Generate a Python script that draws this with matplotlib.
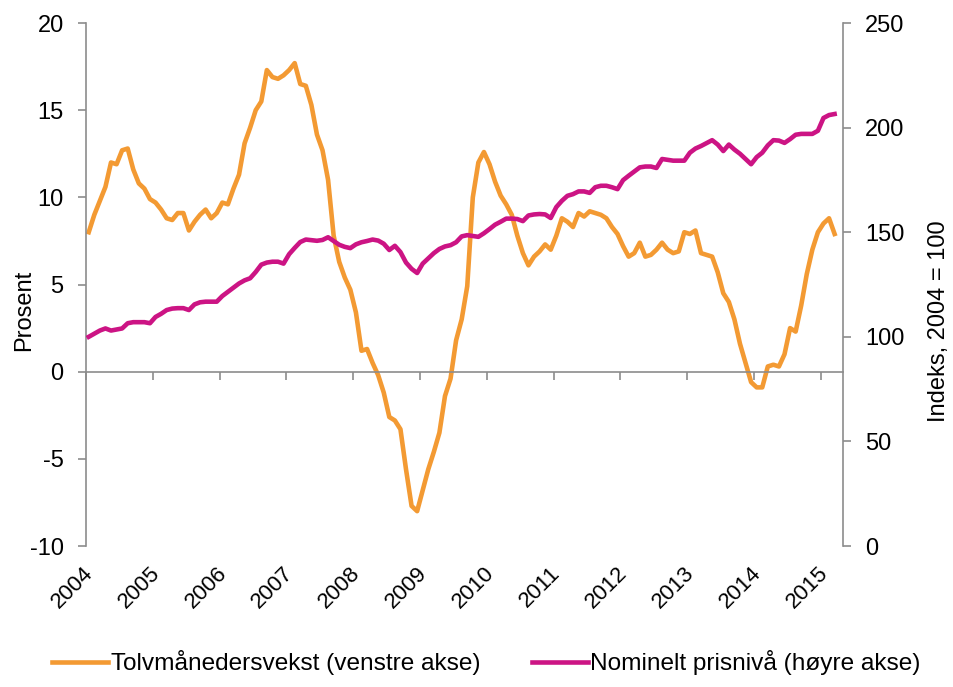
import matplotlib
matplotlib.use('Agg')
import matplotlib.pyplot as plt
import matplotlib.transforms as mtransforms
import numpy as np

plt.rcParams['font.family'] = ['Liberation Sans', 'DejaVu Sans']
plt.rcParams['axes.unicode_minus'] = False

# Monthly data, Jan 2004 - Mar 2015
growth = [8.0, 9.0, 9.8, 10.6, 12.0, 11.9, 12.7, 12.8, 11.6, 10.8, 10.5, 9.9,
          9.7, 9.3, 8.8, 8.7, 9.1, 9.1, 8.1, 8.6, 9.0, 9.3, 8.8, 9.1,
          9.7, 9.6, 10.5, 11.3, 13.1, 14.0, 15.0, 15.5, 17.3, 16.9, 16.8, 17.0,
          17.3, 17.7, 16.5, 16.4, 15.3, 13.6, 12.7, 11.0, 7.8, 6.3, 5.4, 4.7,
          3.4, 1.2, 1.3, 0.5, -0.2, -1.2, -2.6, -2.8, -3.3, -5.6, -7.7, -8.0,
          -6.8, -5.6, -4.6, -3.5, -1.4, -0.4, 1.8, 3.0, 4.9, 10.0, 12.0, 12.6,
          11.9, 10.9, 10.1, 9.6, 9.0, 7.8, 6.8, 6.1, 6.6, 6.9, 7.3, 7.0,
          7.8, 8.8, 8.6, 8.3, 9.1, 8.9, 9.2, 9.1, 9.0, 8.8, 8.3, 7.9,
          7.2, 6.6, 6.8, 7.4, 6.6, 6.7, 7.0, 7.4, 7.0, 6.8, 6.9, 8.0,
          7.9, 8.1, 6.8, 6.7, 6.6, 5.7, 4.5, 4.0, 3.0, 1.6, 0.5, -0.6,
          -0.9, -0.9, 0.3, 0.4, 0.3, 1.0, 2.5, 2.3, 3.8, 5.6, 7.0, 8.0,
          8.5, 8.8, 7.9]

index = [100, 101.5, 103, 104, 103, 103.5, 104, 106.5, 107, 107, 107, 106.5,
         109.5, 111, 112.8, 113.5, 113.7, 113.7, 112.8, 115.5, 116.5, 116.8, 116.8, 116.8,
         119.5, 121.5, 123.5, 125.5, 127, 128, 131, 134.5, 135.5, 135.9, 135.9, 135,
         139.5, 142.5, 145.3, 146.5, 146.2, 145.9, 146.3, 147.6, 145.8, 144, 143, 142.4,
         144.2, 145.2, 145.8, 146.5, 146, 144.5, 141.5, 143.5, 140.5, 135.5, 132.5, 130.5,
         135, 137.5, 140, 142, 143.2, 143.8, 145.2, 148, 148.6, 148.2, 147.8, 149.5,
         151.5, 153.6, 155, 156.5, 156.5, 156.3, 155.3, 158, 158.5, 158.7, 158.5, 156.8,
         162, 165, 167.4, 168.2, 169.5, 169.5, 168.8, 171.5, 172.2, 172.2, 171.5, 170.6,
         174.9, 177, 179, 181, 181.4, 181.4, 180.7, 185, 184.6, 184.2, 184.2, 184.2,
         188, 190, 191.2, 192.6, 194, 191.9, 188.8, 191.9, 189.5, 187.5, 185, 182.5,
         185.9, 188, 191.5, 194, 193.8, 192.7, 194.5, 196.6, 197, 197, 197, 198.5,
         204.6, 206, 206.5]

years = [str(y) for y in range(2004, 2016)]
ORANGE = '#F39A33'
MAGENTA = '#CC1484'
AXCOL = '#8C8C8C'
FS = 17

months = np.arange(len(growth)) + 0.5
year_ticks = np.arange(len(years)) * 12

fig = plt.figure(figsize=(9.54, 6.87), dpi=100)
ax = fig.add_axes([0.0901, 0.2052, 0.7935, 0.7613])
ax2 = ax.twinx()

l1, = ax.plot(months, growth, color=ORANGE, lw=3.3, solid_joinstyle='round',
              label='Tolvmånedersvekst (venstre akse)')
l2, = ax2.plot(months, index, color=MAGENTA, lw=3.3, solid_joinstyle='round',
               label='Nominelt prisnivå (høyre akse)')

ax.set_xlim(0, 136)
ax.set_ylim(-10, 20)
ax.set_yticks(range(-10, 21, 5))
ax2.set_ylim(0, 250)
ax2.set_yticks(range(0, 251, 50))

for a in (ax, ax2):
    for s in a.spines.values():
        s.set_color(AXCOL)
        s.set_linewidth(1.2)
    a.spines['top'].set_visible(False)
ax.spines['right'].set_visible(False)
ax2.spines['left'].set_visible(False)
ax2.spines['bottom'].set_visible(False)
ax.spines['bottom'].set_position(('data', 0))

ax.set_xticks(year_ticks)
ax.tick_params(axis='x', labelbottom=False, length=6, width=1.2, color=AXCOL, direction='out')
ax.tick_params(axis='y', labelsize=FS, length=6, width=1.2, color=AXCOL, pad=10)
ax2.tick_params(axis='y', labelsize=FS, length=6, width=1.2, color=AXCOL, pad=10)

# year labels sit at the bottom of the plot area
sec = ax.secondary_xaxis(0)
sec.set_xticks(year_ticks, labels=years)
sec.spines['bottom'].set_visible(False)
sec.tick_params(length=0, labelsize=16, pad=0)
offset = mtransforms.ScaledTranslation(4 / 100, -24 / 100, fig.dpi_scale_trans)
for lab in sec.get_xticklabels():
    lab.set_rotation(45)
    lab.set_ha('right')
    lab.set_va('center')
    lab.set_rotation_mode('anchor')
    lab.set_transform(lab.get_transform() + offset)

ax.set_ylabel('Prosent', fontsize=FS)
ax.yaxis.set_label_coords(-0.067, 0.45)
ax2.set_ylabel('Indeks, 2004 = 100', fontsize=FS)
ax2.yaxis.set_label_coords(1.113, 0.43)

fig.legend(handles=[l1, l2], loc='center', bbox_to_anchor=(0.51, 0.035),
           ncol=2, frameon=False, fontsize=17.6, handlelength=2.3,
           handletextpad=0.1, columnspacing=2.1)

fig.savefig('out.png', dpi=100)
